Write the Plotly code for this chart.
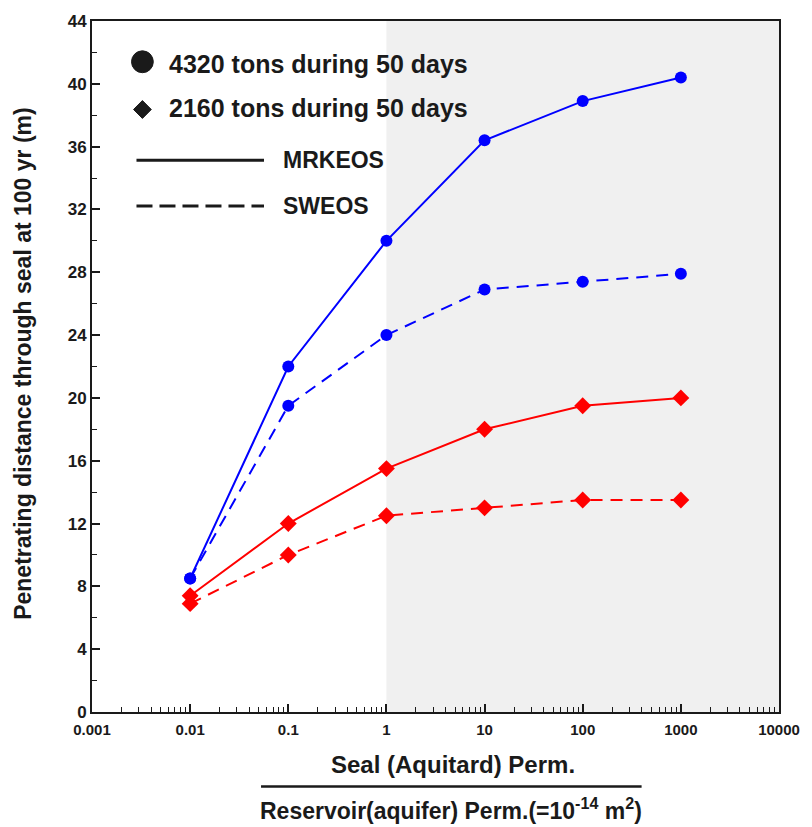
import plotly.graph_objects as go

# Permeability values (x) and penetration distances (m)
perm = [0.01, 0.1, 1, 10, 100, 1000]
big_mrk = [8.5, 22.0, 30.0, 36.4, 38.9, 40.4]     # 4320 tons, MRKEOS
big_sw = [8.5, 19.5, 24.0, 26.9, 27.4, 27.9]      # 4320 tons, SWEOS
small_mrk = [7.4, 12.0, 15.5, 18.0, 19.5, 20.0]   # 2160 tons, MRKEOS
small_sw = [6.9, 10.0, 12.5, 13.0, 13.5, 13.5]    # 2160 tons, SWEOS

x_ticks = [0.001, 0.01, 0.1, 1, 10, 100, 1000, 10000]
x_tick_text = ["0.001", "0.01", "0.1", "1", "10", "100", "1000", "10000"]
y_ticks = list(range(0, 45, 4))
# minor log ticks: 2..9 within every decade
x_minor = [m * d for d in x_ticks[:-1] for m in range(2, 10)]

FONT = "Liberation Sans, Arial, sans-serif"
W, H = 812, 827
L, R, T, B = 92, 25, 17, 115
PW, PH = W - L - R, H - T - B


def px(x):
    return (x - L) / PW


def py(y):
    return (H - B - y) / PH


fig = go.Figure()

series = [
    (big_mrk, "blue", "solid", "circle", 12),
    (big_sw, "blue", "12px,8px", "circle", 12),
    (small_mrk, "red", "solid", "diamond", 13),
    (small_sw, "red", "12px,8px", "diamond", 13),
]
for vals, col, dash, sym, size in series:
    fig.add_trace(go.Scatter(
        x=perm, y=vals, mode="lines+markers",
        line=dict(color=col, width=2, dash=dash),
        marker=dict(symbol=sym, size=size, color=col),
        showlegend=False,
    ))

shapes = [
    # light shaded band for the higher permeability range
    dict(type="rect", xref="x", yref="paper", x0=1, x1=10000, y0=0, y1=1,
         fillcolor="#f0f0f0", line=dict(width=0), layer="below"),
    # key: circle, diamond, solid and dashed line
    dict(type="circle", xref="paper", yref="paper",
         x0=px(143 - 11), x1=px(143 + 11), y0=py(58 + 11), y1=py(58 - 11),
         fillcolor="#1a1a1a", line=dict(color="#1a1a1a", width=1)),
    dict(type="path", xref="paper", yref="paper",
         path=(f"M {px(134)} {py(106)} L {px(143)} {py(97)} "
               f"L {px(152)} {py(106)} L {px(143)} {py(115)} Z"),
         fillcolor="#1a1a1a", line=dict(color="#1a1a1a", width=1)),
    dict(type="line", xref="paper", yref="paper",
         x0=px(137), x1=px(266), y0=py(157), y1=py(157),
         line=dict(color="#1a1a1a", width=3)),
    dict(type="line", xref="paper", yref="paper",
         x0=px(137), x1=px(266), y0=py(203), y1=py(203),
         line=dict(color="#1a1a1a", width=3, dash="16px,7px")),
    # divider between the two x-axis title lines
    dict(type="line", xref="paper", yref="paper",
         x0=px(263), x1=px(648), y0=py(787), y1=py(787),
         line=dict(color="#1a1a1a", width=2.5)),
]


def key_text(text, x, y, size):
    return dict(text=text, x=px(x), y=py(y), xref="paper", yref="paper",
                xanchor="left", yanchor="middle", showarrow=False,
                font=dict(family=FONT, size=size, color="#1a1a1a", weight="bold"))


def title_text(text, x, y, size, angle=0):
    return dict(text=text, x=px(x), y=py(y), xref="paper", yref="paper",
                xanchor="center", yanchor="middle", showarrow=False,
                textangle=angle,
                font=dict(family=FONT, size=size, color="#1a1a1a", weight="bold"))


annotations = [
    key_text("4320 tons during 50 days", 168, 60, 25),
    key_text("2160 tons during 50 days", 168, 105, 25),
    key_text("MRKEOS", 283, 157, 23),
    key_text("SWEOS", 283, 203, 23),
    title_text("Penetrating distance through seal at 100 yr (m)", 22, 361, 23, -90),
    title_text("Seal (Aquitard) Perm.", 457, 765, 24),
    title_text("Reservoir(aquifer) Perm.(=10<sup>-14</sup> m<sup>2</sup>)", 455, 810, 23),
]

axis_common = dict(
    showline=True, linecolor="#1a1a1a", linewidth=2, mirror=True,
    showgrid=False, zeroline=False,
    ticks="inside", ticklen=8, tickwidth=1.5, tickcolor="#1a1a1a",
)

fig.update_layout(
    width=W, height=H,
    margin=dict(l=L, r=R, t=T, b=B),
    paper_bgcolor="white", plot_bgcolor="white",
    shapes=shapes, annotations=annotations,
    xaxis=dict(axis_common, type="log", range=[-3, 4],
               tickvals=x_ticks, ticktext=x_tick_text, ticklabelstandoff=3,
               tickfont=dict(family=FONT, size=15, color="#1a1a1a", weight="bold"),
               minor=dict(ticks="inside", ticklen=5, tickwidth=1,
                          tickcolor="#1a1a1a", tickvals=x_minor, showgrid=False)),
    yaxis=dict(axis_common, range=[0, 44], tickvals=y_ticks,
               tickfont=dict(family=FONT, size=17, color="#1a1a1a", weight="bold"),
               minor=dict(ticks="inside", ticklen=5, tickwidth=1,
                          tickcolor="#1a1a1a", dtick=2, showgrid=False)),
)

fig.write_html("out.html")
